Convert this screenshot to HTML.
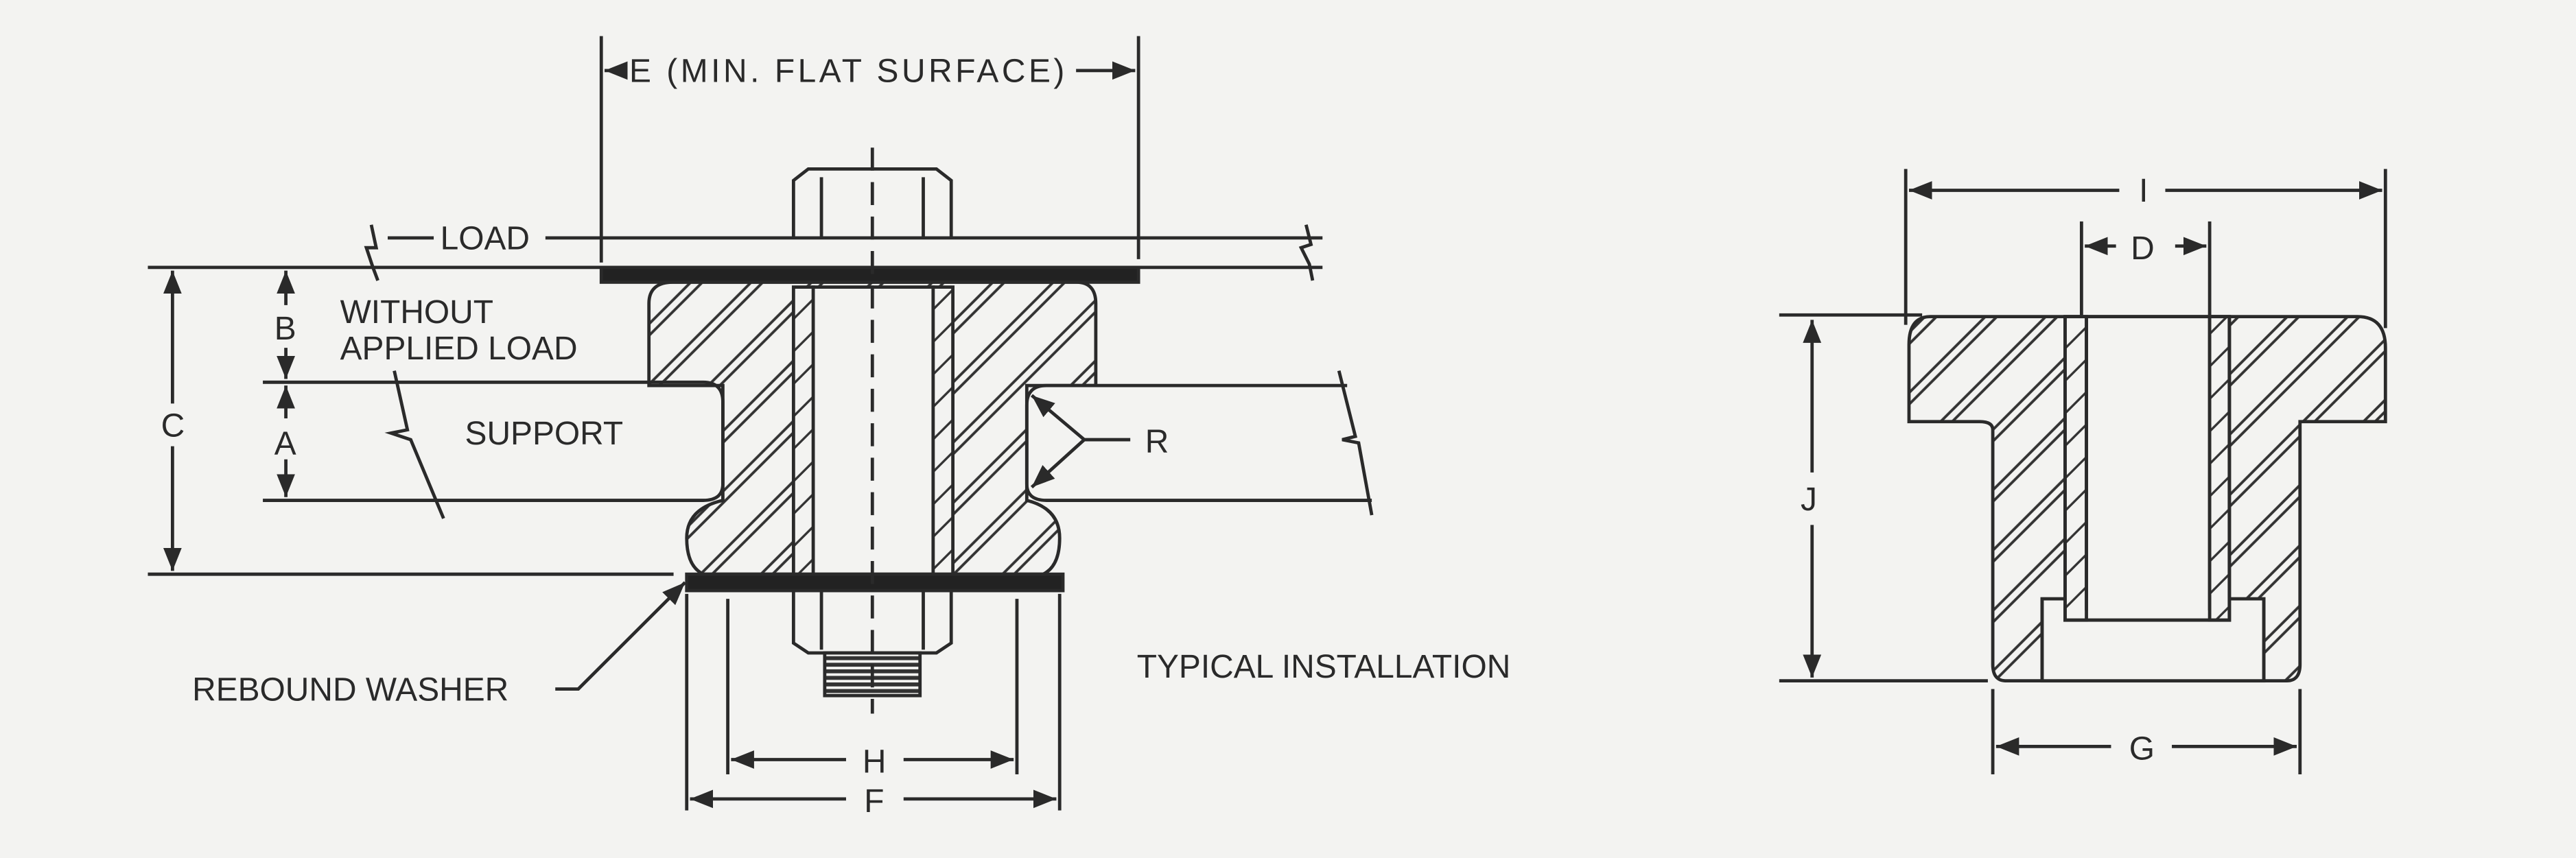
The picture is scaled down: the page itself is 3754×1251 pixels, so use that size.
<!DOCTYPE html>
<html><head><meta charset="utf-8"><style>
html,body{margin:0;padding:0;background:#f3f3f1;}
svg{display:block}
text{font-family:"Liberation Sans",sans-serif;fill:#2a2a2a;font-size:20px;}
</style></head><body>
<svg width="3754" height="1251" viewBox="0 0 1568 523" preserveAspectRatio="none" xmlns="http://www.w3.org/2000/svg">
<defs>
<pattern id="h" width="26" height="26" patternUnits="userSpaceOnUse" patternTransform="rotate(-45)">
<rect width="26" height="26" fill="#f3f3f1"/>
<line x1="0" y1="3" x2="26" y2="3" stroke="#333" stroke-width="1.6"/>
<line x1="0" y1="8" x2="26" y2="8" stroke="#333" stroke-width="1.6"/>
</pattern>
<pattern id="t" width="8" height="14" patternUnits="userSpaceOnUse" patternTransform="rotate(-45)">
<rect width="8" height="14" fill="#f3f3f1"/>
<line x1="0" y1="3" x2="8" y2="3" stroke="#333" stroke-width="1.4"/>
</pattern>
<pattern id="th" width="10" height="4" patternUnits="userSpaceOnUse">
<rect width="10" height="4" fill="#f3f3f1"/><rect width="10" height="2.4" fill="#333"/>
</pattern>
<marker id="a" viewBox="0 0 10 10" refX="10" refY="5" markerWidth="7" markerHeight="7" orient="auto-start-reverse"><path d="M0,1 L10,5 L0,9z" fill="#2a2a2a"/></marker>
</defs>
<g stroke="#2a2a2a" stroke-width="2" fill="none">
<line x1="366" y1="22" x2="366" y2="160"/><line x1="693" y1="22" x2="693" y2="158"/>
<line x1="368" y1="43" x2="380" y2="43" marker-start="url(#a)"/><line x1="655" y1="43" x2="691" y2="43" marker-end="url(#a)"/>
<line x1="236" y1="145" x2="264" y2="145"/><line x1="332" y1="145" x2="805" y2="145"/>
<line x1="90" y1="163" x2="805" y2="163"/>
<path d="M226,137 l3,14 l-6,0 l4,12 l3,8"/><path d="M795,137 l3,12 l-6,2 l5,10 l2,10"/>
<path d="M483,145 V110 L492,103 H570 L579,110 V145"/><line x1="500" y1="108" x2="500" y2="145"/><line x1="562" y1="108" x2="562" y2="145"/>
<path d="M410,172 H655 Q667,172 667,185 V235 H625 V305 Q645,310 645,328 Q645,345 635,350 H428 Q418,345 418,328 Q418,310 440,305 V235 H395 V185 Q395,172 410,172Z" fill="url(#h)"/>
<rect x="495" y="175" width="73" height="175" fill="#f3f3f1"/>
<rect x="483" y="175" width="12" height="175" fill="url(#t)"/><rect x="568" y="175" width="12" height="175" fill="url(#t)"/>
<path d="M160,233 H428 Q440,233 440,245 V295 Q440,305 428,305 H160"/>
<path d="M820,235 H637 Q625,235 625,247 V295 Q625,305 637,305 H835"/>
<path d="M240,226 l8,36 l-10,2 l12,4 l20,48"/><path d="M815,226 l10,40 l-8,2 l10,2 l8,44"/>
<rect x="366" y="163" width="327" height="9" fill="#222"/>
<rect x="418" y="350" width="229" height="10" fill="#222"/>
<line x1="90" y1="350" x2="410" y2="350"/>
<path d="M483,360 V392 L492,398 H570 L579,392 V360"/><line x1="500" y1="360" x2="500" y2="396"/><line x1="562" y1="360" x2="562" y2="396"/>
<rect x="502" y="398" width="58" height="26" fill="url(#th)"/>
<line x1="531" y1="90" x2="531" y2="435" stroke-dasharray="14,7"/>
<line x1="105" y1="165" x2="105" y2="246" marker-start="url(#a)"/><line x1="105" y1="272" x2="105" y2="348" marker-end="url(#a)"/>
<line x1="174" y1="165" x2="174" y2="186" marker-start="url(#a)"/><line x1="174" y1="212" x2="174" y2="231" marker-end="url(#a)"/>
<line x1="174" y1="235" x2="174" y2="255" marker-start="url(#a)"/><line x1="174" y1="280" x2="174" y2="303" marker-end="url(#a)"/>
<line x1="660" y1="268" x2="628" y2="241" marker-end="url(#a)"/><line x1="660" y1="268" x2="628" y2="297" marker-end="url(#a)"/><line x1="660" y1="268" x2="688" y2="268"/>
<polyline points="338,420 352,420 417,355" marker-end="url(#a)"/>
<line x1="443" y1="365" x2="443" y2="472"/><line x1="619" y1="365" x2="619" y2="472"/>
<line x1="418" y1="362" x2="418" y2="494"/><line x1="645" y1="362" x2="645" y2="494"/>
<line x1="445" y1="463" x2="515" y2="463" marker-start="url(#a)"/><line x1="550" y1="463" x2="617" y2="463" marker-end="url(#a)"/>
<line x1="420" y1="487" x2="515" y2="487" marker-start="url(#a)"/><line x1="550" y1="487" x2="643" y2="487" marker-end="url(#a)"/>
<line x1="1160" y1="103" x2="1160" y2="198"/><line x1="1452" y1="103" x2="1452" y2="200"/>
<line x1="1162" y1="116" x2="1290" y2="116" marker-start="url(#a)"/><line x1="1318" y1="116" x2="1450" y2="116" marker-end="url(#a)"/>
<line x1="1267" y1="135" x2="1267" y2="192"/><line x1="1345" y1="135" x2="1345" y2="192"/>
<line x1="1269" y1="150" x2="1288" y2="150" marker-start="url(#a)"/><line x1="1324" y1="150" x2="1343" y2="150" marker-end="url(#a)"/>
<path d="M1175,193 H1435 Q1452,193 1452,212 V257 H1400 V405 Q1400,415 1392,415 H1221 Q1213,415 1213,405 V262 Q1213,257 1205,257 H1162 V210 Q1162,193 1175,193Z" fill="url(#h)"/>
<rect x="1243" y="365" width="135" height="50" fill="#f3f3f1"/>
<line x1="1243" y1="365" x2="1243" y2="415"/><line x1="1378" y1="365" x2="1378" y2="415"/>
<rect x="1257" y="193" width="100" height="185" fill="#f3f3f1"/>
<rect x="1257" y="193" width="13" height="185" fill="url(#t)"/><rect x="1345" y="193" width="12" height="185" fill="url(#t)"/>
<path d="M1257,193 V378 H1357 V193"/><line x1="1270" y1="193" x2="1270" y2="372"/><line x1="1345" y1="193" x2="1345" y2="372"/>
<line x1="1083" y1="192" x2="1170" y2="192"/><line x1="1083" y1="415" x2="1210" y2="415"/>
<line x1="1103" y1="195" x2="1103" y2="288" marker-start="url(#a)"/><line x1="1103" y1="320" x2="1103" y2="413" marker-end="url(#a)"/>
<line x1="1213" y1="420" x2="1213" y2="472"/><line x1="1400" y1="420" x2="1400" y2="472"/>
<line x1="1215" y1="455" x2="1285" y2="455" marker-start="url(#a)"/><line x1="1322" y1="455" x2="1398" y2="455" marker-end="url(#a)"/>
</g>
<text x="383" y="50" textLength="265">E (MIN. FLAT SURFACE)</text>
<text x="268" y="152">LOAD</text>
<text x="207" y="197">WITHOUT</text>
<text x="207" y="219">APPLIED LOAD</text>
<text x="167" y="207">B</text>
<text x="167" y="277">A</text>
<text x="98" y="266">C</text>
<text x="283" y="271">SUPPORT</text>
<text x="697" y="276">R</text>
<text x="117" y="427">REBOUND WASHER</text>
<text x="692" y="413">TYPICAL INSTALLATION</text>
<text x="525" y="471">H</text>
<text x="526" y="495">F</text>
<text x="1302" y="123">I</text>
<text x="1297" y="158">D</text>
<text x="1096" y="311">J</text>
<text x="1296" y="463">G</text>
</svg>
</body></html>
